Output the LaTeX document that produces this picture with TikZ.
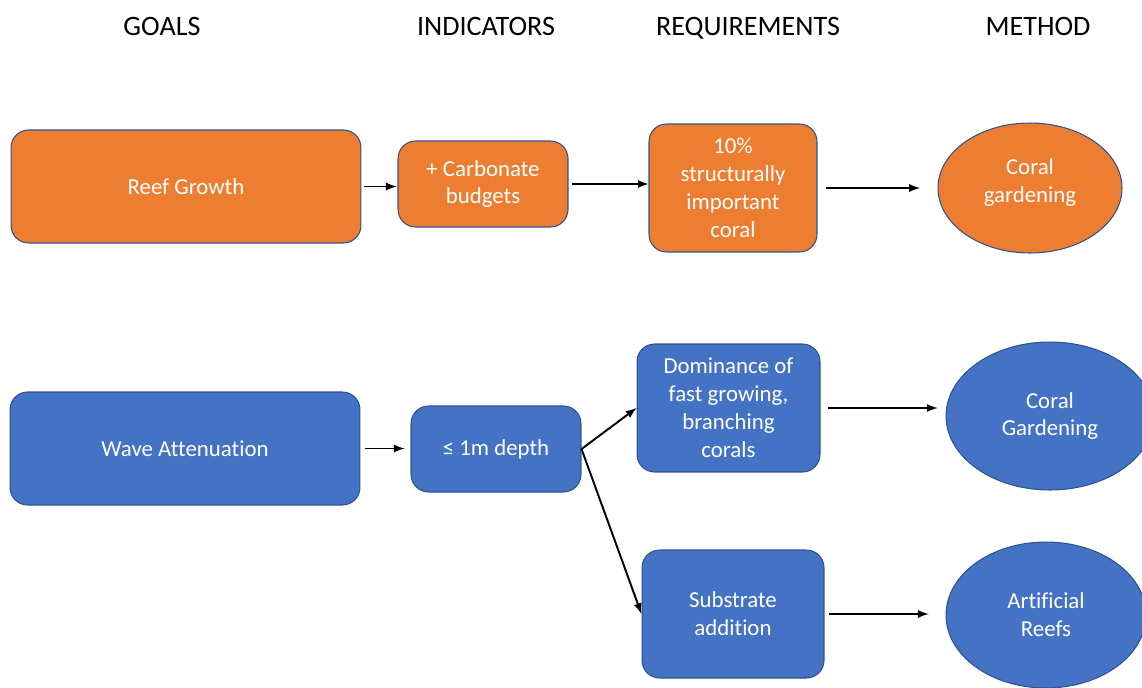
\documentclass[tikz,border=0pt]{standalone}
\usepackage{fontspec}
\setmainfont{Carlito}[Ligatures=NoCommon]
\usetikzlibrary{shapes.geometric}
\definecolor{reeforange}{HTML}{ED7D31}
\definecolor{reefblue}{HTML}{4472C4}
\definecolor{edgeblue}{HTML}{2F528F}

\begin{document}
\begin{tikzpicture}[x=0.02cm,y=-0.02cm,-]
                \tikzstyle{box}=[rectangle,rounded corners=10pt,draw=edgeblue,line width=0.6pt,text=white,align=center,inner sep=0pt,font=\fontsize{13}{15.9}\selectfont]
                \tikzstyle{orangebox}=[box,fill=reeforange]
                \tikzstyle{bluebox}=[box,fill=reefblue]
                \tikzstyle{method}=[ellipse,draw=edgeblue,line width=0.6pt,text=white,align=center,inner sep=0pt,font=\fontsize{13}{15.9}\selectfont]
                \tikzstyle{header}=[anchor=base,font=\fontsize{16}{19}\selectfont]
                \tikzstyle{link}=[-latex,line width=1.1pt]
                \useasboundingbox (0,0) rectangle (1142,687);

                \foreach \name/\x/\txt in {goals/162/GOALS, indicators/486/INDICATORS, requirements/748/REQUIREMENTS, method/1038/METHOD}
                    \node[header] (\name) at (\x,35) {\txt};

                % reef growth row
                \node[orangebox,minimum width=7cm,minimum height=2.26cm] (goalA) at (186,186.5) {Reef Growth};
                \node[orangebox,minimum width=3.4cm,minimum height=1.72cm] (indA) at (483,184) {+ Carbonate\\budgets};
                \node[orangebox,minimum width=3.36cm,minimum height=2.56cm] (reqA) at (733,188) {10\%\\structurally\\important\\coral};
                \node[method,fill=reeforange,minimum width=3.68cm,minimum height=2.6cm,text depth=8pt] (methA) at (1030,188) {Coral\\gardening};

                % wave attenuation row
                \node[bluebox,minimum width=7cm,minimum height=2.26cm] (goalB) at (185,448.5) {Wave Attenuation};
                \node[bluebox,minimum width=3.4cm,minimum height=1.72cm] (indB) at (496,449) {≤ 1m depth};
                \node[bluebox,minimum width=3.66cm,minimum height=2.56cm] (reqB) at (728.5,408) {Dominance of\\fast growing,\\branching\\corals};
                \node[bluebox,minimum width=3.64cm,minimum height=2.56cm] (reqC) at (733,614) {Substrate\\addition};
                \node[method,fill=reefblue,minimum width=4.16cm,minimum height=2.96cm] (methB) at (1050,416) {Coral\\Gardening};
                \node[method,fill=reefblue,minimum width=4cm,minimum height=2.92cm] (methC) at (1046,615) {Artificial\\Reefs};

                \foreach \from/\to/\s/\e in {goalA/indA/1.7/0.5, indA/reqA/1.7/0, reqA/methA/5/10, goalB/indB/2.3/3.4, reqB/methB/4/4.5, reqC/methC/2.8/9.6}
                    \draw[link,shorten <=\s pt,shorten >=\e pt] (\from.east) -- (\from.east -| \to.west);
                \draw[link] (indB.east) -- (reqB.west);
                \draw[link] (indB.east) -- (reqC.west);
            \end{tikzpicture}
\end{document}
